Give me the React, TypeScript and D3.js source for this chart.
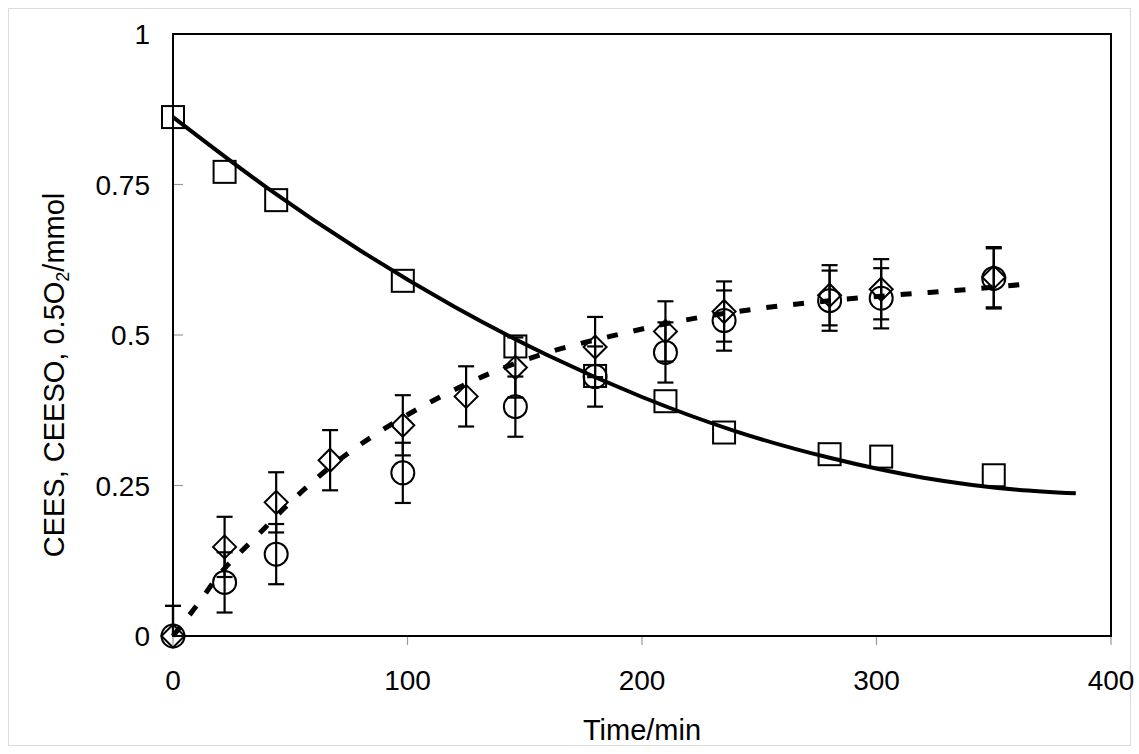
import React from "react";
import * as d3 from "d3";

// CEES (squares)
const ceesTime = [0, 22, 44, 98, 146, 180, 210, 235, 280, 302, 350];
const ceesValue = [0.862, 0.771, 0.724, 0.59, 0.481, 0.432, 0.39, 0.338, 0.302, 0.298, 0.267];

// diamonds with error bars
const diamondTime = [0, 22, 44, 67, 98, 125, 146, 180, 210, 235, 280, 302, 350];
const diamondValue = [0, 0.148, 0.222, 0.292, 0.35, 0.398, 0.446, 0.48, 0.506, 0.539, 0.566, 0.576, 0.596];

// circles with error bars
const circleTime = [0, 22, 44, 98, 146, 180, 210, 235, 280, 302, 350];
const circleValue = [0, 0.089, 0.136, 0.271, 0.381, 0.431, 0.471, 0.524, 0.557, 0.561, 0.594];

const errorValue = 0.05;

// fitted curves
const solidCurveTime = [0, 40, 80, 120, 160, 200, 240, 280, 320, 360, 385];
const solidCurveValue = [0.862, 0.745, 0.64, 0.547, 0.466, 0.397, 0.34, 0.296, 0.263, 0.243, 0.237];

const dashCurveTime = [0, 10, 20, 35, 50, 70, 90, 110, 135, 160, 190, 220, 250, 280, 310, 340, 365];
const dashCurveValue = [0, 0.05, 0.103, 0.163, 0.222, 0.29, 0.344, 0.389, 0.436, 0.471, 0.501, 0.526, 0.544, 0.557, 0.567, 0.576, 0.585];

const xTicks = [0, 100, 200, 300, 400];
const yTicks = [0, 0.25, 0.5, 0.75, 1];
const yTickLabels = ["0", "0.25", "0.5", "0.75", "1"];

const FONT = "'Liberation Sans', Arial, Helvetica, sans-serif";

export default function App() {
  const left = 173, right = 1111, top = 34, bottom = 636;
  const x = d3.scaleLinear().domain([0, 400]).range([left, right]);
  const y = d3.scaleLinear().domain([0, 1]).range([bottom, top]);

  const line = d3
    .line<[number, number]>()
    .x((d) => x(d[0]))
    .y((d) => y(d[1]))
    .curve(d3.curveMonotoneX);

  const solidPath = line(solidCurveTime.map((t, i) => [t, solidCurveValue[i]]))!;
  const dashPath = line(dashCurveTime.map((t, i) => [t, dashCurveValue[i]]))!;

  const cap = 8;
  const errBar = (t: number, v: number, key: string) => {
    const cx = x(t);
    const hi = Math.min(1, v + errorValue);
    const lo = Math.max(0, v - errorValue);
    return (
      <g key={key} stroke="#000" strokeWidth={2.2} fill="none">
        <line x1={cx} x2={cx} y1={y(lo)} y2={y(hi)} />
        {v + errorValue <= 1 && <line x1={cx - cap} x2={cx + cap} y1={y(hi)} y2={y(hi)} />}
        {v - errorValue >= 0 && <line x1={cx - cap} x2={cx + cap} y1={y(lo)} y2={y(lo)} />}
      </g>
    );
  };

  const sq = 11;
  const dm = 11.5;
  const cr = 11.5;

  return (
    <svg
      width={1139}
      height={754}
      style={{ position: "absolute", left: 0, top: 0, background: "#fff" }}
      fontFamily={FONT}
    >
      <rect x={8.5} y={8.5} width={1122} height={737} fill="#fff" stroke="#dcdcdc" strokeWidth={1} />

      {/* ticks */}
      {xTicks.map((t) => (
        <line key={"xt" + t} x1={x(t)} x2={x(t)} y1={bottom} y2={bottom + 9} stroke="#999" strokeWidth={1.2} />
      ))}
      {yTicks.map((t) => (
        <line key={"yt" + t} x1={left} x2={left + 10} y1={y(t)} y2={y(t)} stroke="#999" strokeWidth={1.2} />
      ))}

      {/* curves */}
      <path d={solidPath} fill="none" stroke="#000" strokeWidth={4} />
      <path d={dashPath} fill="none" stroke="#000" strokeWidth={5} strokeDasharray="11,16" />

      {/* error bars */}
      {diamondTime.map((t, i) => errBar(t, diamondValue[i], "de" + i))}
      {circleTime.map((t, i) => errBar(t, circleValue[i], "ce" + i))}

      {/* markers */}
      {ceesTime.map((t, i) => (
        <rect
          key={"s" + i}
          x={x(t) - sq}
          y={y(ceesValue[i]) - sq}
          width={2 * sq}
          height={2 * sq}
          fill="none"
          stroke="#000"
          strokeWidth={2}
        />
      ))}
      {circleTime.map((t, i) => (
        <circle key={"c" + i} cx={x(t)} cy={y(circleValue[i])} r={cr} fill="none" stroke="#000" strokeWidth={2} />
      ))}
      {diamondTime.map((t, i) => {
        const cx = x(t);
        const cy = y(diamondValue[i]);
        return (
          <path
            key={"d" + i}
            d={`M${cx},${cy - dm}L${cx + dm},${cy}L${cx},${cy + dm}L${cx - dm},${cy}Z`}
            fill="none"
            stroke="#000"
            strokeWidth={2}
          />
        );
      })}

      {/* frame */}
      <rect x={left} y={top} width={right - left} height={bottom - top} fill="none" stroke="#000" strokeWidth={2} />

      {/* tick labels */}
      {xTicks.map((t) => (
        <text key={"xl" + t} x={x(t)} y={690} fontSize={28} textAnchor="middle" fill="#000">
          {t}
        </text>
      ))}
      {yTicks.map((t, i) => (
        <text key={"yl" + t} x={150} y={y(t) + 10} fontSize={28} textAnchor="end" fill="#000">
          {yTickLabels[i]}
        </text>
      ))}

      {/* axis titles */}
      <text x={642} y={740} fontSize={29} textAnchor="middle" fill="#000">
        Time/min
      </text>
      <text transform="translate(64,375) rotate(-90)" fontSize={29} textAnchor="middle" fill="#000">
        CEES, CEESO, 0.5O
        <tspan fontSize={18} dy={5}>2</tspan>
        <tspan dy={-5}>/mmol</tspan>
      </text>
    </svg>
  );
}
